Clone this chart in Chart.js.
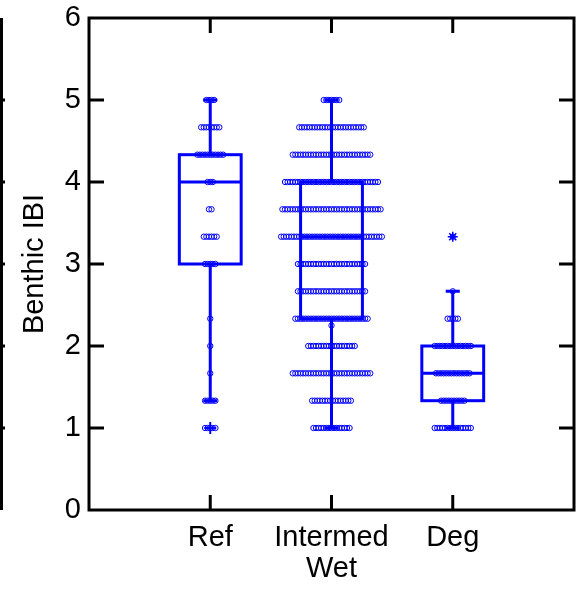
<!DOCTYPE html>
<html lang="en">
<head>
<meta charset="UTF-8">
<title>Benthic IBI</title>
<style>
  html, body { margin: 0; padding: 0; background: #fff; }
  #wrap { width: 582px; height: 590px; position: relative; }
</style>
</head>
<body>
<div id="wrap"><canvas id="myChart"></canvas></div>
<script src="https://cdn.jsdelivr.net/npm/chart.js"></script>
<script>
// categories and the IBI score levels (thirds)
const categories = ['Ref', ['Intermed', 'Wet'], 'Deg'];
const levels = [1.0, 1.333, 1.667, 2.0, 2.333, 2.667, 3.0, 3.333, 3.667, 4.0, 4.333, 4.667, 5.0];

// number of sites at each level
const refCounts      = [5, 5, 1, 1, 1, 0, 5, 6, 2, 3, 11, 8, 4];
const intermedCounts = [15, 16, 31, 19, 29, 27, 27, 40, 39, 37, 31, 26, 7];
const intermedExtra  = [2.25];
const degCounts      = [15, 10, 14, 15, 5, 1, 0, 1, 0, 0, 0, 0, 0];

// box stats: [low whisker, q1, median, q3, high whisker]
const refBox      = [1.333, 3.0, 4.0, 4.333, 5.0];
const intermedBox = [1.0, 2.333, 3.333, 4.0, 5.0];
const degBox      = [1.0, 1.333, 1.667, 2.0, 2.667];
const refOutliers = [1.0];
const degOutliers = [3.333];

const yTicks = [0, 1, 2, 3, 4, 5, 6];
const BLUE = '#0000ff';
const FONT = 'Liberation Sans, Arial, sans-serif';

// spread the points of one level side by side around the category
const STEP = 0.0213;
function strip(pos, counts, extra) {
  const pts = [];
  counts.forEach((n, i) => {
    for (let k = 0; k < n; k++) {
      pts.push({ x: pos + (k - (n - 1) / 2) * STEP, y: levels[i] });
    }
  });
  (extra || []).forEach(v => pts.push({ x: pos, y: v }));
  return pts;
}

const boxPlugin = {
  id: 'boxes',
  beforeDatasetsDraw(chart) {
    const { ctx, scales: { x, y } } = chart;
    ctx.save();
    ctx.strokeStyle = BLUE;
    ctx.lineWidth = 3;
    [refBox, intermedBox, degBox].forEach((b, i) => {
      const cx = x.getPixelForValue(i + 1);
      const hw = x.getPixelForValue(i + 1.255) - cx;
      const cw = x.getPixelForValue(i + 1.058) - cx;
      const [lo, q1, med, q3, hi] = b.map(v => y.getPixelForValue(v));
      ctx.strokeRect(cx - hw, q3, hw * 2, q1 - q3);
      ctx.beginPath();
      ctx.moveTo(cx - hw, med); ctx.lineTo(cx + hw, med);
      ctx.moveTo(cx, q3); ctx.lineTo(cx, hi);
      ctx.moveTo(cx, q1); ctx.lineTo(cx, lo);
      ctx.moveTo(cx - cw, hi); ctx.lineTo(cx + cw, hi);
      ctx.moveTo(cx - cw, lo); ctx.lineTo(cx + cw, lo);
      ctx.stroke();
    });
    ctx.restore();
  }
};

const framePlugin = {
  id: 'frame',
  afterDatasetsDraw(chart) {
    const { ctx, chartArea: a, scales: { x, y } } = chart;
    ctx.save();
    ctx.strokeStyle = '#000';
    ctx.lineWidth = 3;
    ctx.strokeRect(a.left, a.top, a.right - a.left, a.bottom - a.top);
    ctx.beginPath();
    yTicks.slice(1, -1).forEach(v => {
      const py = y.getPixelForValue(v);
      ctx.moveTo(a.left, py); ctx.lineTo(a.left + 15, py);
      ctx.moveTo(a.right, py); ctx.lineTo(a.right - 15, py);
      // edge of the neighbouring panel
      ctx.moveTo(0, py); ctx.lineTo(5, py);
    });
    [1, 2, 3].forEach(v => {
      const px = x.getPixelForValue(v);
      ctx.moveTo(px, a.bottom); ctx.lineTo(px, a.bottom - 15);
      ctx.moveTo(px, a.top); ctx.lineTo(px, a.top + 15);
    });
    ctx.moveTo(1.5, a.top); ctx.lineTo(1.5, a.bottom);
    ctx.stroke();
    ctx.restore();
  }
};

const pointStyle = {
  pointRadius: 2.7,
  pointBorderWidth: 1,
  borderColor: BLUE,
  backgroundColor: 'rgba(0,0,0,0)',
  showLine: false
};

new Chart(document.getElementById('myChart'), {
  type: 'scatter',
  data: {
    datasets: [
      { data: strip(1, refCounts), ...pointStyle },
      { data: strip(2, intermedCounts, intermedExtra), ...pointStyle },
      { data: strip(3, degCounts), ...pointStyle },
      { data: refOutliers.map(v => ({ x: 1, y: v })), pointStyle: 'cross', pointRadius: 6,
        pointBorderWidth: 2, borderColor: BLUE, backgroundColor: BLUE },
      { data: degOutliers.map(v => ({ x: 3, y: v })), pointStyle: 'star', pointRadius: 5,
        pointBorderWidth: 1.5, borderColor: BLUE, backgroundColor: BLUE }
    ]
  },
  options: {
    responsive: true,
    maintainAspectRatio: false,
    animation: false,
    layout: { padding: { top: 18, right: 3, left: 0, bottom: 0 } },
    plugins: { legend: { display: false }, tooltip: { enabled: false } },
    scales: {
      x: {
        type: 'linear', min: 0, max: 4,
        grid: { display: false, drawTicks: false },
        border: { display: false },
        afterBuildTicks: s => { s.ticks = [1, 2, 3].map(v => ({ value: v })); },
        afterFit: s => { s.height = 80; s.paddingLeft = 0; s.paddingRight = 0; },
        ticks: {
          autoSkip: false, maxRotation: 0, padding: 13, color: '#000',
          font: { family: FONT, size: 29, lineHeight: 1.05 },
          callback: v => categories[v - 1]
        }
      },
      y: {
        min: 0, max: 6,
        grid: { display: false, drawTicks: false },
        border: { display: false },
        afterBuildTicks: s => { s.ticks = yTicks.map(v => ({ value: v })); },
        afterFit: s => { s.width = 89; s.paddingTop = 0; s.paddingBottom = 0; },
        ticks: {
          padding: 8, color: '#000',
          font: { family: FONT, size: 29 }
        },
        title: {
          display: true, text: 'Benthic IBI', color: '#000',
          padding: { top: 18, bottom: 0 },
          font: { family: FONT, size: 29 }
        }
      }
    }
  },
  plugins: [boxPlugin, framePlugin]
});
</script>
</body>
</html>
